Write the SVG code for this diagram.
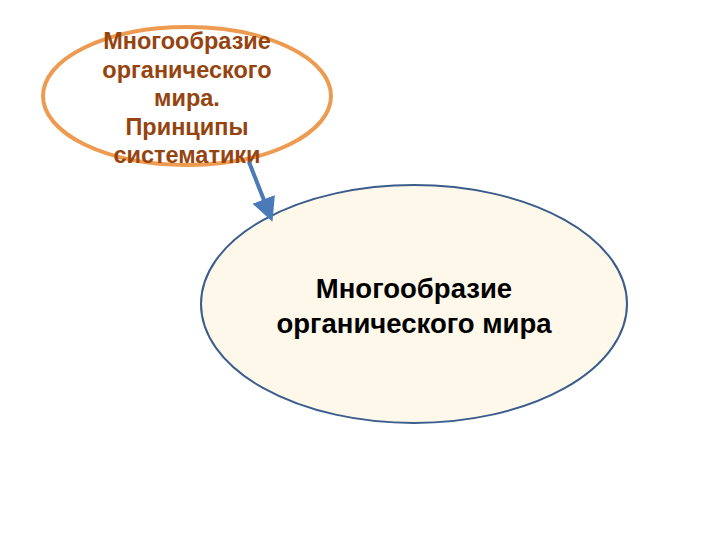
<svg xmlns="http://www.w3.org/2000/svg" width="720" height="540" viewBox="0 0 720 540">
<style>
.t1{font-family:"Liberation Sans",Arial,sans-serif;font-weight:bold;font-size:23.5px;fill:#96440F;text-anchor:middle}
.t2{font-family:"Liberation Sans",Arial,sans-serif;font-weight:bold;font-size:27.5px;fill:#000;text-anchor:middle}
</style>
<defs>
<marker id="ah" markerWidth="6" markerHeight="6" refX="5" refY="3" orient="auto" markerUnits="strokeWidth">
<path d="M0,0 L6,3 L0,6 Z" fill="#4A7AB8"/>
</marker>
</defs>
<rect width="720" height="540" fill="#fff"/>
<g id="main">
<ellipse cx="414" cy="304" rx="213" ry="119" fill="#FDF8EA" stroke="#3B5D8C" stroke-width="2"/>
<text class="t2" x="414" y="298">Многообразие</text>
<text class="t2" x="414" y="333">органического мира</text>
</g>
<g id="top">
<ellipse cx="187" cy="96" rx="144" ry="69" fill="none" stroke="#EE9B52" stroke-width="4"/>
<text class="t1" x="187" y="49">Многообразие</text>
<text class="t1" x="187" y="78">органического</text>
<text class="t1" x="187" y="106">мира.</text>
<text class="t1" x="187" y="135">Принципы</text>
<text class="t1" x="187" y="163">систематики</text>
</g>
<g id="connectors">
<line x1="249" y1="162" x2="271" y2="218" stroke="#4A7AB8" stroke-width="4" marker-end="url(#ah)"/>
</g>
</svg>
